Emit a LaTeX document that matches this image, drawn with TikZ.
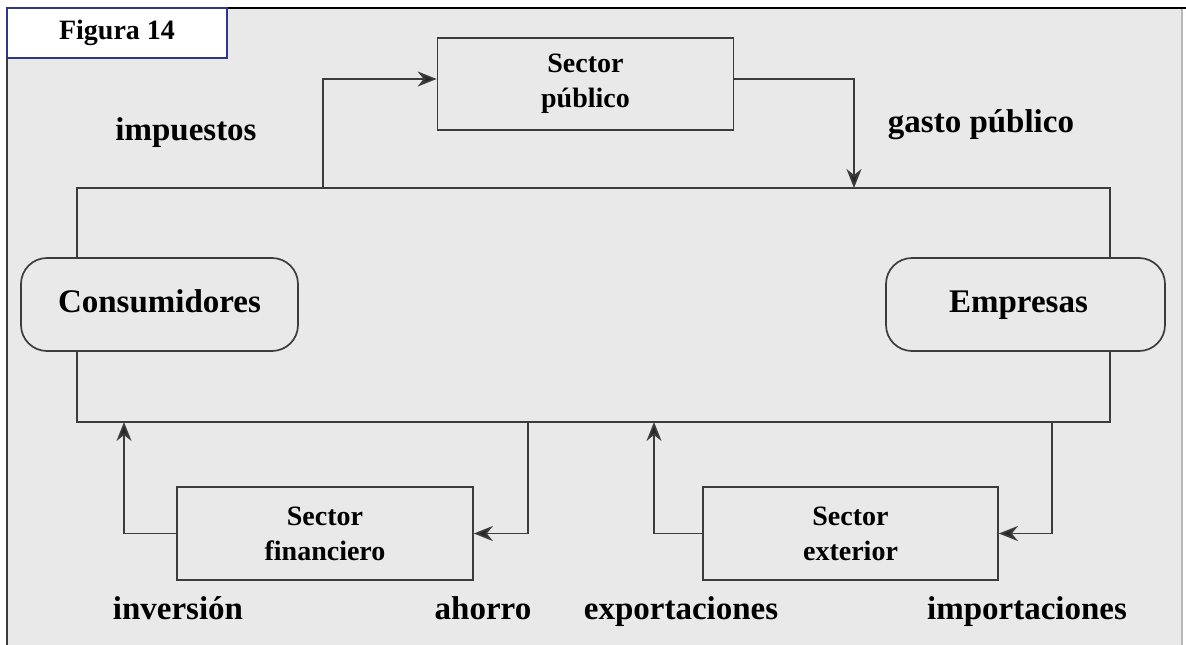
\documentclass[tikz,border=0pt]{standalone}
\usepackage{fontspec}
\setmainfont{Liberation Serif}
\usetikzlibrary{arrows.meta}
\definecolor{panelgray}{HTML}{E9E9E9}
\definecolor{linegray}{HTML}{3C3C3C}
\definecolor{navyline}{HTML}{2E3884}

\begin{document}
\begin{tikzpicture}[x=1pt, y=-1pt,
    box/.style={draw=linegray, line width=1.7pt, fill=panelgray, inner sep=0pt,
        align=center, font=\fontsize{28}{35}\selectfont\bfseries},
    agent/.style={box, rounded corners=26pt, text height=22pt, text depth=7pt,
        font=\fontsize{33}{38}\selectfont\bfseries},
    flow/.style={draw=linegray, line width=1.7pt,
        -{Stealth[length=19pt,width=15pt,inset=6pt,fill=black!85]}},
    loopline/.style={draw=linegray, line width=1.7pt},
    lbl/.style={anchor=base, inner sep=0pt, font=\fontsize{33}{38}\selectfont\bfseries}]
    \useasboundingbox (0,0) rectangle (1186,645);

    % Panel
    \fill[panelgray] (7,8) rectangle (1182,645);
    \draw[gray!55, line width=1.5pt] (1182,8) -- (1182,645);
    \draw[linegray, line width=1.5pt] (7,8) -- (7,645);
    \draw[black, line width=2pt] (7,8) -- (1186,8);
    \node[draw=navyline, line width=1.2pt, fill=white, minimum width=220pt, minimum height=50pt,
        inner sep=0pt, font=\fontsize{28}{30}\selectfont\bfseries] (figura) at (117,33) {Figura 14};

    % Sectors and agents
    \node[box, minimum width=296pt, minimum height=92pt] (publico) at (585.5,84) {Sector\\público};
    \node[agent, minimum width=277pt, minimum height=93pt] (consum) at (159.5,304.5) {Consumidores};
    \node[agent, minimum width=279pt, minimum height=93pt] (empresas) at (1025.5,304.5) {\hspace*{-14pt}Empresas};
    \node[box, minimum width=296pt, minimum height=93pt] (financiero) at (325,533.5) {Sector\\financiero};
    \node[box, minimum width=295pt, minimum height=93pt] (exterior) at (850.5,533.5) {Sector\\exterior};

    % Main circuit
    \coordinate (tl) at (77,188);
    \coordinate (tr) at (1110,188);
    \coordinate (bl) at (77,422);
    \coordinate (br) at (1110,422);
    \draw[loopline] (consum.north -| tl) -- (tl) -- (tr) -- (empresas.north -| tr);
    \draw[loopline] (consum.south -| bl) -- (bl) -- (br) -- (empresas.south -| br);

    % Flows
    \coordinate (taxout) at (323,188);
    \coordinate (spendin) at (854,188);
    \coordinate (invin) at (124,422);
    \coordinate (saveout) at (528,422);
    \coordinate (expin) at (654,422);
    \coordinate (impout) at (1052,422);
    \draw[flow] (taxout) |- ([yshift=5pt]publico.west);
    \draw[flow] ([yshift=5pt]publico.east) -| (spendin);
    \draw[flow] (financiero.west) -| (invin);
    \draw[flow] (saveout) |- (financiero.east);
    \draw[flow] (exterior.west) -| (expin);
    \draw[flow] (impout) |- (exterior.east);

    % Labels
    \node[lbl] (impuestos) at (186,140) {impuestos};
    \node[lbl] (gasto) at (981,132) {gasto público};
    \node[lbl] (inversion) at (178,619) {inversión};
    \node[lbl] (ahorro) at (483,619) {ahorro};
    \node[lbl] (exportaciones) at (681,619) {exportaciones};
    \node[lbl] (importaciones) at (1027,619) {importaciones};
\end{tikzpicture}
\end{document}
